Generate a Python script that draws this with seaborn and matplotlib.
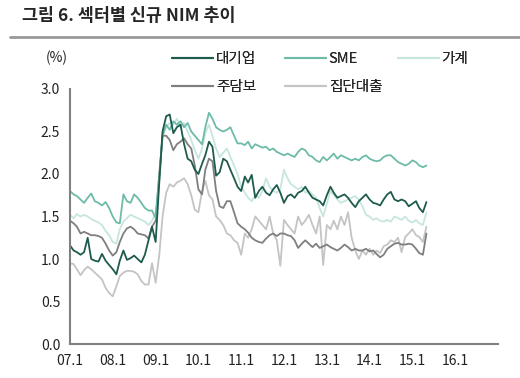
import pandas as pd
import matplotlib
matplotlib.use("Agg")
import matplotlib.pyplot as plt
import seaborn as sns
import numpy as np
from matplotlib.lines import Line2D

# 월별 신규 NIM (%), 2007.01 ~ 2015.05
dae = [1.16, 1.10, 1.08, 1.05, 1.08, 1.25, 1.00, 0.98, 0.97, 1.06, 0.98, 0.93,
       0.88, 0.82, 0.98, 1.10, 0.99, 1.01, 1.04, 1.00, 0.96, 1.05, 1.22, 1.38,
       1.20, 1.90, 2.50, 2.68, 2.70, 2.48, 2.55, 2.58, 2.35, 2.18, 2.15, 2.05,
       2.00, 2.12, 2.22, 2.38, 2.32, 1.98, 2.02, 2.18, 2.15, 2.05, 1.95, 1.85,
       1.80, 1.97, 1.90, 1.99, 1.72, 1.80, 1.85, 1.78, 1.75, 1.82, 1.87, 1.78,
       1.66, 1.74, 1.76, 1.72, 1.78, 1.80, 1.85, 1.78, 1.72, 1.70, 1.68, 1.63,
       1.75, 1.85, 1.78, 1.72, 1.74, 1.76, 1.72, 1.66, 1.61, 1.68, 1.72, 1.76,
       1.70, 1.66, 1.65, 1.63, 1.70, 1.76, 1.79, 1.70, 1.68, 1.70, 1.68, 1.62,
       1.65, 1.68, 1.60, 1.55, 1.67]
sme = [1.80, 1.76, 1.74, 1.70, 1.66, 1.72, 1.77, 1.68, 1.66, 1.63, 1.67, 1.60,
       1.50, 1.43, 1.42, 1.76, 1.68, 1.66, 1.76, 1.72, 1.66, 1.60, 1.57, 1.57,
       1.48, 1.95, 2.45, 2.58, 2.52, 2.62, 2.58, 2.62, 2.55, 2.60, 2.50, 2.45,
       2.40, 2.35, 2.55, 2.72, 2.65, 2.55, 2.52, 2.50, 2.52, 2.55, 2.45, 2.36,
       2.36, 2.34, 2.38, 2.30, 2.35, 2.33, 2.31, 2.32, 2.28, 2.30, 2.26, 2.24,
       2.22, 2.24, 2.22, 2.20, 2.26, 2.30, 2.28, 2.22, 2.20, 2.16, 2.14, 2.20,
       2.16, 2.20, 2.24, 2.18, 2.22, 2.20, 2.18, 2.16, 2.18, 2.16, 2.20, 2.22,
       2.18, 2.16, 2.15, 2.16, 2.20, 2.22, 2.22, 2.18, 2.14, 2.12, 2.10, 2.12,
       2.16, 2.14, 2.10, 2.08, 2.10]
gagye = [1.52, 1.48, 1.53, 1.50, 1.52, 1.50, 1.47, 1.45, 1.43, 1.40, 1.33, 1.28,
         1.20, 1.18, 1.35, 1.44, 1.48, 1.52, 1.50, 1.48, 1.46, 1.44, 1.40, 1.45,
         1.55, 2.00, 2.45, 2.55, 2.60, 2.58, 2.65, 2.55, 2.60, 2.50, 2.40, 2.28,
         2.18, 2.30, 2.48, 2.58, 2.45, 2.30, 2.20, 2.25, 2.30, 2.20, 2.10, 2.00,
         1.85, 1.78, 1.72, 1.68, 1.75, 1.72, 1.80, 1.95, 1.85, 1.80, 1.78, 1.82,
         2.05, 1.95, 1.88, 1.85, 1.82, 1.85, 1.78, 1.80, 1.76, 1.72, 1.60, 1.50,
         1.65, 1.80, 1.75, 1.70, 1.66, 1.68, 1.70, 1.72, 1.74, 1.70, 1.62, 1.52,
         1.50, 1.46, 1.48, 1.45, 1.44, 1.46, 1.44, 1.50, 1.48, 1.46, 1.50, 1.45,
         1.43, 1.46, 1.42, 1.40, 1.55]
judambo = [1.45, 1.42, 1.38, 1.30, 1.32, 1.30, 1.28, 1.28, 1.27, 1.25, 1.18, 1.10,
           1.04, 1.08, 1.20, 1.30, 1.36, 1.38, 1.35, 1.30, 1.29, 1.28, 1.24, 1.38,
           1.45, 2.00, 2.45, 2.45, 2.40, 2.28, 2.35, 2.38, 2.42, 2.35, 2.30, 2.10,
           1.82, 1.76, 2.05, 2.18, 2.15, 1.80, 1.62, 1.60, 1.68, 1.68, 1.55, 1.42,
           1.38, 1.35, 1.31, 1.25, 1.22, 1.20, 1.19, 1.24, 1.28, 1.30, 1.27, 1.30,
           1.30, 1.28, 1.27, 1.22, 1.13, 1.18, 1.22, 1.18, 1.14, 1.18, 1.13, 1.15,
           1.17, 1.14, 1.12, 1.10, 1.13, 1.17, 1.14, 1.10, 1.12, 1.10, 1.10, 1.12,
           1.09, 1.10, 1.06, 1.02, 1.05, 1.12, 1.15, 1.18, 1.19, 1.17, 1.17, 1.18,
           1.17, 1.12, 1.07, 1.05, 1.30]
jipdan = [0.95, 0.94, 0.88, 0.81, 0.87, 0.91, 0.88, 0.84, 0.80, 0.76, 0.66, 0.60,
          0.56, 0.68, 0.80, 0.84, 0.86, 0.86, 0.85, 0.82, 0.74, 0.70, 0.70, 0.95,
          0.72, 1.05, 1.50, 1.78, 1.88, 1.85, 1.90, 1.92, 1.95, 1.88, 1.75, 1.58,
          1.55, 1.80, 1.92, 1.75, 1.70, 1.50, 1.46, 1.40, 1.30, 1.28, 1.22, 1.19,
          1.05, 1.30, 1.25, 1.35, 1.50, 1.45, 1.40, 1.35, 1.50, 1.30, 1.22, 0.92,
          1.46, 1.40, 1.35, 1.30, 1.50, 1.40, 1.45, 1.52, 1.40, 1.30, 1.50, 0.93,
          1.40, 1.35, 1.45, 1.35, 1.50, 1.40, 1.55, 1.25, 1.10, 1.00, 1.10, 1.05,
          1.12, 1.05, 1.10, 1.07, 1.15, 1.17, 1.22, 1.20, 1.25, 1.08, 1.26, 1.30,
          1.35, 1.28, 1.26, 1.20, 1.38]

series = ['대기업', '주담보', 'SME', '집단대출', '가계']
colors = ['#1d5b4d', '#7f7f7f', '#6dbba8', '#c4c4c4', '#c6e6df']
year_labels = ['07.1', '08.1', '09.1', '10.1', '11.1', '12.1', '13.1', '14.1', '15.1', '16.1', '']

dates = pd.date_range('2007-01-01', periods=len(dae), freq='MS')
df = pd.DataFrame({'date': dates, '대기업': dae, 'SME': sme, '가계': gagye,
                   '주담보': judambo, '집단대출': jipdan})
long = df.melt(id_vars='date', var_name='구분', value_name='NIM')

sns.set_style('white')
plt.rcParams['font.family'] = ['Noto Sans CJK KR', 'DejaVu Sans']

fig = plt.figure(figsize=(5.2, 3.78), dpi=100)
ax = fig.add_axes([0.1346, 0.0899, 0.8231, 0.6747])

# 그리는 순서: 옅은 선 먼저
draw_order = ['집단대출', '가계', '주담보', 'SME', '대기업']
pal = dict(zip(series, colors))
sns.lineplot(data=long, x='date', y='NIM', hue='구분', hue_order=draw_order,
             palette=pal, linewidth=1.3, ax=ax, legend=False)

ax.set_ylim(0, 3.0)
ax.set_yticks(np.arange(0, 3.01, 0.5))
ax.set_yticklabels([f'{v:.1f}' for v in np.arange(0, 3.01, 0.5)], fontsize=10)
ticks = pd.date_range('2007-01-01', '2017-01-01', freq='YS')
ax.set_xlim(ticks[0], ticks[-1])
ax.set_xticks(ticks)
ax.set_xticklabels(year_labels, fontsize=10)
ax.set_xlabel('')
ax.set_ylabel('')
for s in ['top', 'right']:
    ax.spines[s].set_visible(False)
for s in ['left', 'bottom']:
    ax.spines[s].set_color('#808080')
    ax.spines[s].set_linewidth(1.5)
ax.tick_params(axis='both', length=4, width=1.2, color='#808080', colors='#222222', pad=3)

# 범례: 열 간격을 고정하기 위해 열마다 따로
columns = [['대기업', '주담보'], ['SME', '집단대출'], ['가계']]
col_x = [0.331, 0.548, 0.765]
for names, x0 in zip(columns, col_x):
    handles = [Line2D([], [], color=pal[s], lw=1.5) for s in names]
    leg = fig.legend(handles, names, loc='upper left', bbox_to_anchor=(x0, 0.862),
                     frameon=False, fontsize=10.5, handlelength=2.8, handletextpad=0.2,
                     labelspacing=0.95, borderpad=0, borderaxespad=0)
    fig.add_artist(leg)

fig.text(0.088, 0.835, '(%)', fontsize=10, color='#222222')
fig.text(0.042, 0.945, '그림 6. 섹터별 신규 NIM 추이', fontsize=12.5, fontweight='bold')
fig.add_artist(Line2D([0.02, 1.0], [0.902, 0.902], color='#999999', lw=2))

fig.savefig('out.png', dpi=100)
